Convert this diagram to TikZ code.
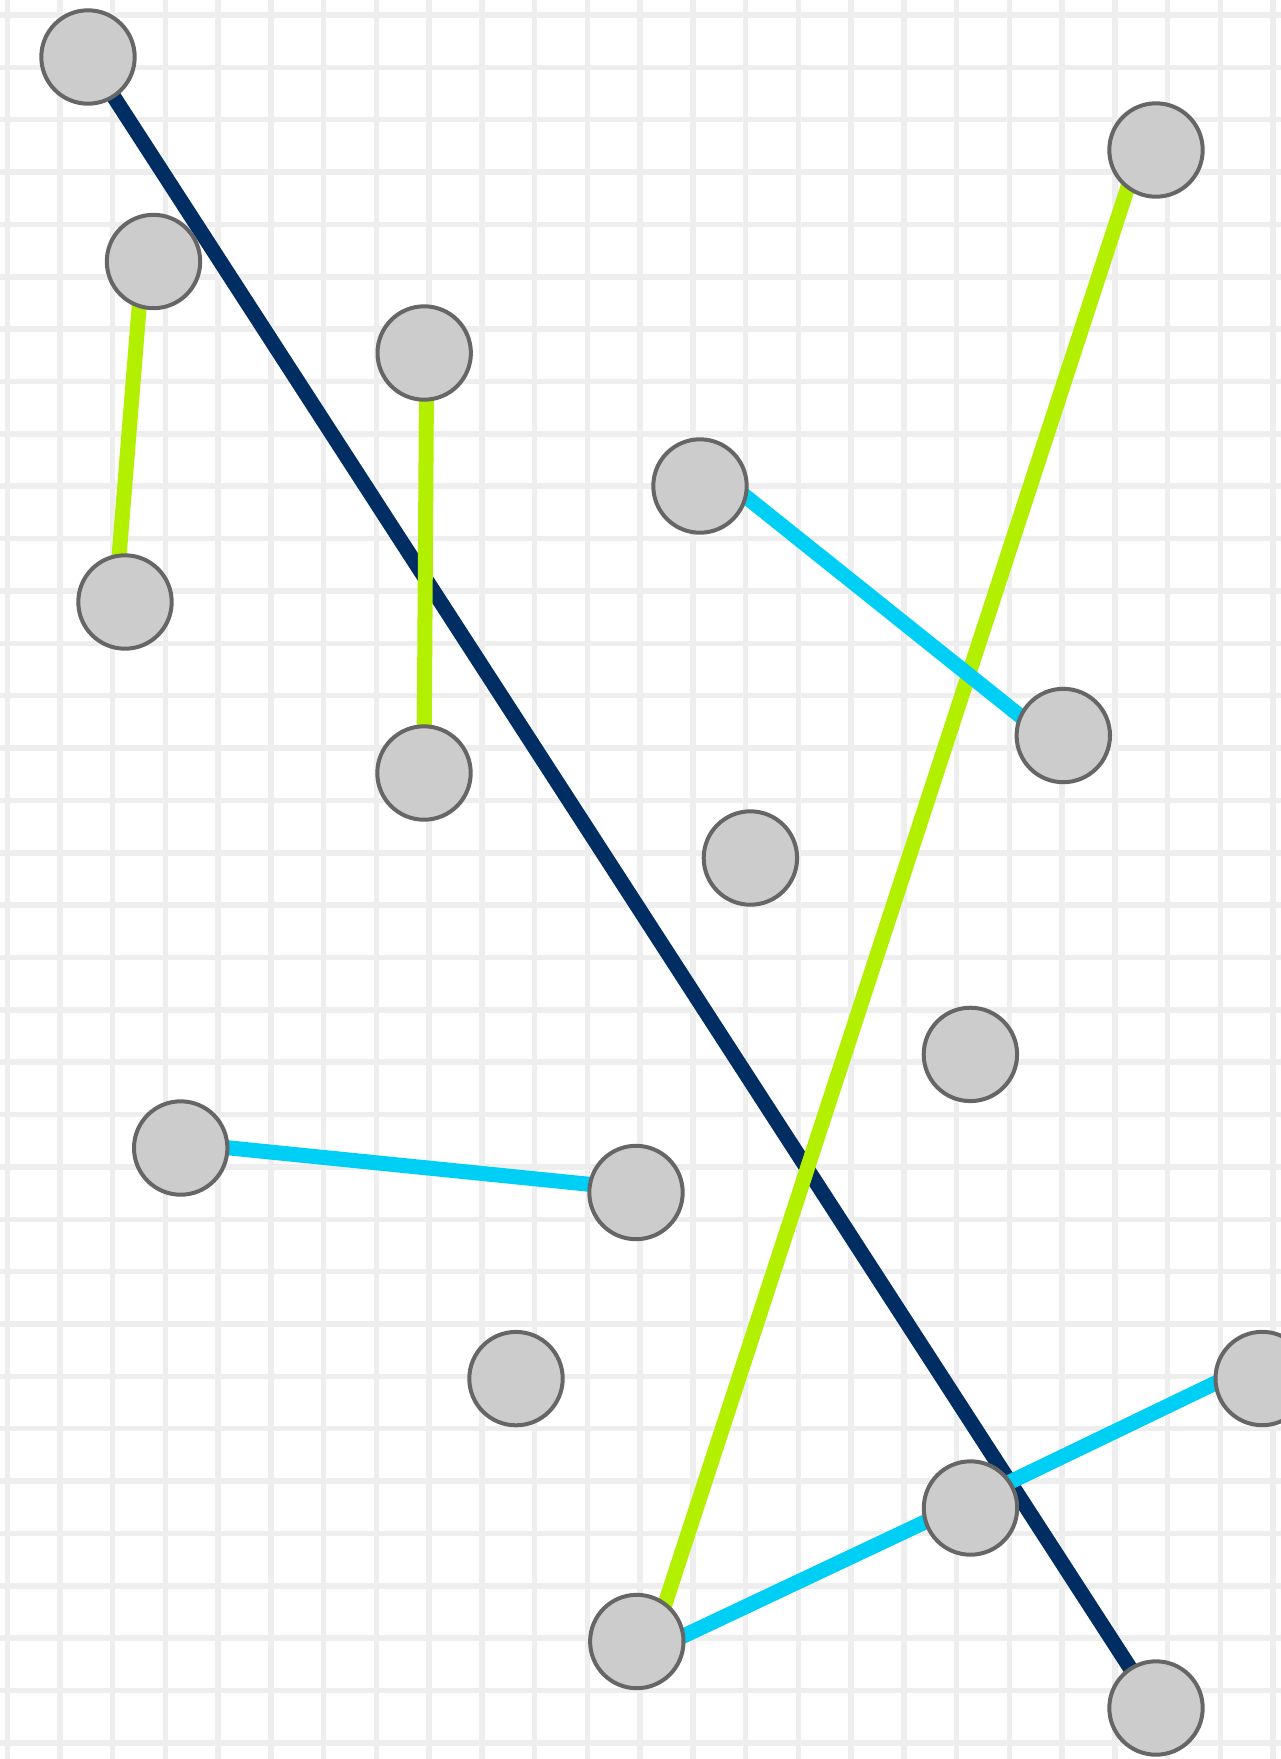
\documentclass[tikz,border=0pt]{standalone}
\usetikzlibrary{backgrounds}
\definecolor{gridgray}{RGB}{238,238,238}
\definecolor{navyline}{RGB}{0,45,98}
\definecolor{limeline}{RGB}{178,240,0}
\definecolor{cyanline}{RGB}{0,207,245}
\definecolor{ballfill}{RGB}{204,204,204}
\definecolor{balledge}{RGB}{102,102,102}
\begin{document}
\begin{tikzpicture}[x=1pt,y=-1pt,line join=round,
		ball/.style={circle,draw=balledge,fill=ballfill,line width=4pt,minimum size=93.4pt,inner sep=0pt},
		gridline/.style={gridgray,line width=5.5pt},
		navyedge/.style={navyline,line width=15pt},
		limeedge/.style={limeline,line width=15pt},
		cyanedge/.style={cyanline,line width=15pt}]
	\useasboundingbox (0,0) rectangle (1281,1759);
	% balls
	\node[ball] (A) at (88,57) {};
	\node[ball] (B) at (153.5,261.5) {};
	\node[ball] (C) at (125,602) {};
	\node[ball] (D) at (424.2,353) {};
	\node[ball] (E) at (424,773) {};
	\node[ball] (F) at (700,486) {};
	\node[ball] (G) at (1063.3,735.5) {};
	\node[ball] (H) at (1156,150) {};
	\node[ball] (I) at (750.4,858) {};
	\node[ball] (J) at (970.4,1054.4) {};
	\node[ball] (K) at (180.7,1148) {};
	\node[ball] (L) at (636,1192.5) {};
	\node[ball] (M) at (516,1378.6) {};
	\node[ball] (N) at (1262.2,1378.5) {};
	\node[ball] (O) at (970.5,1508) {};
	\node[ball] (P) at (636.8,1641.5) {};
	\node[ball] (Q) at (1156,1708) {};
	\begin{scope}[on background layer]
		\fill[white] (0,0) rectangle (1281,1759);
		\foreach \i in {0,...,24} \draw[gridline] (7.26+52.74*\i,0) -- (7.26+52.74*\i,1759);
		\foreach \j in {0,...,33} \draw[gridline] (0,15+52.36*\j) -- (1281,15+52.36*\j);
		% links
		\draw[navyedge] (A.center) -- (Q.center);
		\draw[limeedge] ([shift={(-10.7,0)}]B.center) -- ([shift={(-9.6,0)}]C.center);
		\draw[limeedge] ([shift={(2.5,0)}]D.center) -- (E.center);
		\draw[limeedge] ([shift={(-16,0)}]H.center) -- ([shift={(16,0)}]P.center);
		\draw[cyanedge] ([shift={(0,-26)}]F.center) -- ([shift={(0,15)}]G.center);
		\draw[cyanedge] ([shift={(0,-5)}]K.center) -- ([shift={(0,-3.5)}]L.center);
		\draw[cyanedge] ([shift={(0,-18)}]N.center) -- ([shift={(0,-7)}]O.center);
		\draw[cyanedge] ([shift={(0,-7.5)}]O.center) -- ([shift={(0,16.5)}]P.center);
	\end{scope}
\end{tikzpicture}
\end{document}
